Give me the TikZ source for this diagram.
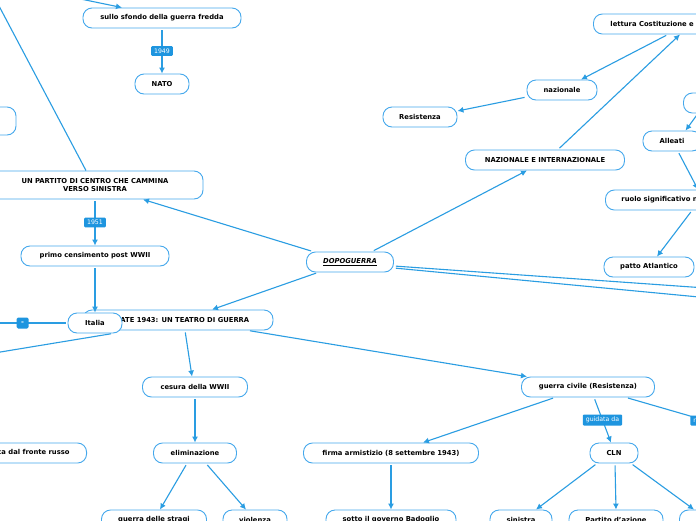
\documentclass[tikz,border=0pt]{standalone}
\usepackage{fontspec}
\setmainfont{DejaVu Sans}
\usetikzlibrary{arrows.meta}
\definecolor{linec}{HTML}{2A9DE2}
\definecolor{boxc}{HTML}{45A8EC}
\definecolor{labc}{HTML}{1E95DF}
\tikzset{
  box/.style={draw=boxc, line width=0.9pt, fill=white, rounded corners=9pt,
    minimum height=20pt, inner xsep=6pt, inner ysep=2pt,
    font=\fontsize{6.8}{8.8}\selectfont\bfseries},
  conn/.style={draw=linec, line width=1.1pt, shorten <=2pt},
  arr/.style={conn, -{Latex[length=6pt,width=6pt]}},
  elab/.style={fill=labc, text=white, inner xsep=3pt, inner ysep=2.5pt,
    rounded corners=1pt, font=\fontsize{6.2}{7}\selectfont},
  collapse/.style={fill=labc, text=white, minimum width=12pt, minimum height=11pt,
    inner sep=0pt, rounded corners=1.5pt, font=\fontsize{7}{7}\selectfont\bfseries}
}
\begin{document}
\begin{tikzpicture}[x=1pt,y=-1pt]
\useasboundingbox[fill=white] (0,0) rectangle (696,520);
% off-page ends
\coordinate (offtl) at (-20,-30);
\coordinate (offtop) at (37,-10);
\coordinate (offleft) at (-30,323);
\coordinate (offsw) at (-30,357);
\coordinate (offr1) at (720,289);
\coordinate (offr2) at (720,299);
\coordinate (offr3) at (780,442);
% nodes
\node[box, minimum width=158pt] (sullo) at (162,18) {sullo sfondo della guerra fredda};
\node[box, minimum width=54pt] (nato) at (162,84) {NATO};
\node[box, minimum width=76pt, minimum height=28pt] (leftbox) at (-22,121) {};
\node[box, minimum width=216pt, minimum height=28pt, align=center] (partito) at (95,185) {UN PARTITO DI CENTRO CHE CAMMINA\\VERSO SINISTRA};
\node[box, minimum width=148pt] (primo) at (95,256) {primo censimento post WWII};
\node[box, minimum width=190pt] (estate) at (178,320) {ESTATE 1943: UN TEATRO DI GUERRA};
\node[box, minimum width=54pt] (italia) at (95,323) {Italia};
\node[box, minimum width=105pt] (cesura) at (195,387) {cesura della WWII};
\node[box, minimum width=83pt] (elim) at (195,453) {eliminazione};
\node[box, anchor=east, inner xsep=17pt] (russo) at (87,453) {ritirata tragica dal fronte russo};
\node[box, minimum width=105pt] (stragi) at (154,520) {guerra delle stragi};
\node[box, minimum width=64pt] (violenza) at (255,520) {violenza};
\node[box, minimum width=87pt] (dopo) at (350,262) {\underline{\textit{DOPOGUERRA}}};
\node[box, minimum width=159pt] (naz) at (545,160) {NAZIONALE E INTERNAZIONALE};
\node[box, anchor=west, inner xsep=17pt] (lettura) at (593,24) {lettura Costituzione e Resistenza};
\node[box, minimum width=70pt] (nazionale) at (562,90) {nazionale};
\node[box, minimum width=74pt] (resist) at (420,117) {Resistenza};
\node[box, anchor=west, minimum width=60pt] (topright) at (683,103) {};
\node[box, minimum width=58pt] (alleati) at (672,141) {Alleati};
\node[box, anchor=west, inner xsep=16pt] (ruolo) at (605,200) {ruolo significativo nella guerra fredda};
\node[box, minimum width=90pt] (patto) at (649,267) {patto Atlantico};
\node[box, minimum width=133pt] (gc) at (588,387) {guerra civile (Resistenza)};
\node[box, minimum width=175pt] (firma) at (391,453) {firma armistizio (8 settembre 1943)};
\node[box, minimum width=130pt] (badoglio) at (391,520) {sotto il governo Badoglio};
\node[box, minimum width=48pt] (cln) at (614,453) {CLN};
\node[box, minimum width=62pt] (sinistra) at (521,520) {sinistra};
\node[box, minimum width=94pt] (partito2) at (616,520) {Partito d'azione};
\node[box, anchor=west, minimum width=50pt] (rightbot) at (679,520) {};
% connectors
\draw[arr] (offtop) -- ([xshift=-40pt]sullo.north);
\draw[arr] (sullo.south) -- node[elab]{1949} (nato.north);
\draw[conn] (offtl) -- ([xshift=-9pt]partito.north);
\draw[arr] (partito.south) -- node[elab]{1951} (primo.north);
\draw[arr] (primo.south) -- (italia.north);
\draw[conn] (italia.west) -- node[pos=0.46, collapse]{-} (offleft);
\draw[conn] ([xshift=18pt]italia.south) -- (offsw);
\draw[arr] ([xshift=-37pt]dopo.north) -- ([xshift=48pt]partito.south);
\draw[arr] ([xshift=-32pt]dopo.south) -- ([xshift=34pt]estate.north);
\draw[arr] ([xshift=22pt]dopo.north) -- ([xshift=-18pt]naz.south);
\draw[conn] ([yshift=-4pt]dopo.east) -- (offr1);
\draw[conn] ([yshift=-6pt]dopo.east) -- (offr2);
\draw[arr] ([xshift=13pt]naz.north) -- ([xshift=87pt]lettura.south west);
\draw[arr] ([xshift=75pt]lettura.south west) -- ([xshift=19pt]nazionale.north);
\draw[arr] ([yshift=-7pt]nazionale.west) -- ([yshift=6pt]resist.east);
\draw[arr] ([xshift=15pt]topright.south west) -- ([xshift=43pt]alleati.north west);
\draw[arr] ([xshift=6pt]alleati.south) -- ([xshift=93pt]ruolo.north west);
\draw[arr] ([xshift=87pt]ruolo.south west) -- ([xshift=8pt]patto.north);
\draw[arr] ([xshift=7pt]estate.south) -- ([xshift=-3pt]cesura.north);
\draw[arr] ([xshift=70pt]estate.south) -- ([xshift=-61pt]gc.north);
\draw[arr] (cesura.south) -- (elim.north);
\draw[arr] ([xshift=-8pt]elim.south) -- ([xshift=6pt]stragi.north);
\draw[arr] ([xshift=11pt]elim.south) -- ([xshift=-9pt]violenza.north);
\draw[arr] ([xshift=-33pt]gc.south) -- ([xshift=32pt]firma.north);
\draw[arr] (firma.south) -- (badoglio.north);
\draw[arr] ([xshift=6pt]gc.south) -- node[elab]{guidata da} ([xshift=-3pt]cln.north);
\draw[conn] ([xshift=38pt]gc.south) -- node[pos=0.52, elab]{risultato} (offr3);
\draw[arr] ([xshift=-17pt]cln.south) -- ([xshift=15pt]sinistra.north);
\draw[arr] ([xshift=1pt]cln.south) -- (partito2.north);
\draw[arr] ([xshift=17pt]cln.south) -- ([xshift=15pt]rightbot.north west);
\end{tikzpicture}
\end{document}
